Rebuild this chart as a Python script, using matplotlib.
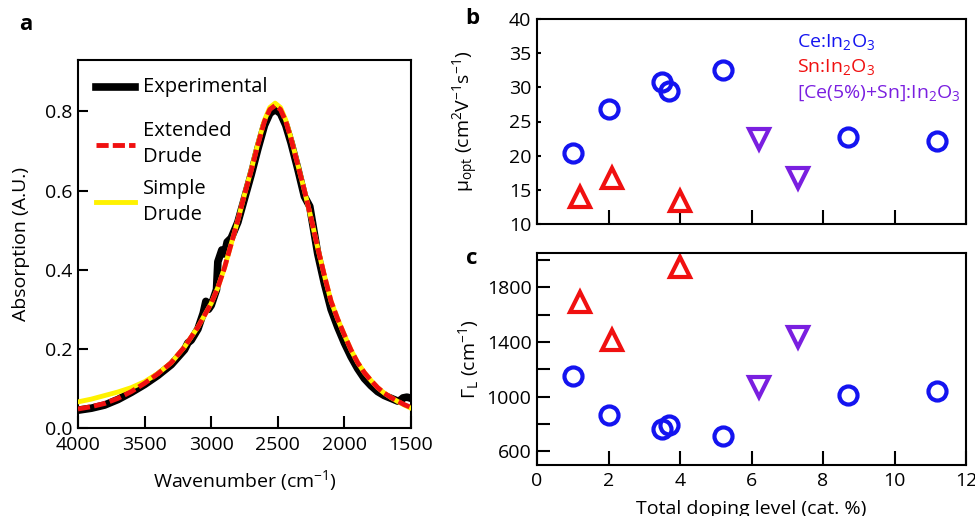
import matplotlib
matplotlib.use("Agg")
import matplotlib.pyplot as plt
from matplotlib.lines import Line2D
from matplotlib.ticker import FixedLocator, FuncFormatter

plt.rcParams["font.family"] = ["Open Sans", "DejaVu Sans"]
plt.rcParams["mathtext.fontset"] = "custom"
plt.rcParams["mathtext.rm"] = "Open Sans"
plt.rcParams["mathtext.it"] = "Open Sans"
plt.rcParams["font.size"] = 14

BLUE = "#1414F0"
RED = "#F01010"
PURPLE = "#7A1FE0"
YELLOW = "#FFF200"

# Panel a: absorption spectra
exp_wn = [4000, 3900, 3800, 3700, 3600, 3500, 3400, 3300, 3200, 3175, 3150,
          3100, 3060, 3040, 3020, 3000, 2960, 2950, 2920, 2900, 2880, 2850,
          2800, 2750, 2700, 2650, 2600, 2560, 2520, 2480, 2440, 2400, 2350,
          2300, 2260, 2240, 2200, 2150, 2100, 2050, 2000, 1950, 1900, 1850,
          1800, 1750, 1700, 1650, 1600, 1580, 1560, 1530, 1500]
exp_abs = [0.045, 0.050, 0.058, 0.072, 0.090, 0.110, 0.133, 0.160, 0.198,
           0.215, 0.222, 0.250, 0.290, 0.320, 0.300, 0.310, 0.350, 0.420,
           0.450, 0.440, 0.470, 0.480, 0.520, 0.580, 0.640, 0.705, 0.765,
           0.795, 0.805, 0.795, 0.765, 0.720, 0.655, 0.585, 0.560, 0.520,
           0.440, 0.365, 0.300, 0.255, 0.215, 0.180, 0.150, 0.125, 0.107,
           0.092, 0.082, 0.075, 0.068, 0.070, 0.076, 0.078, 0.075]

fit_wn = [4000, 3900, 3800, 3700, 3600, 3500, 3400, 3300, 3200, 3100, 3000,
          2950, 2900, 2850, 2800, 2750, 2700, 2650, 2600, 2560, 2520, 2480,
          2440, 2400, 2350, 2300, 2250, 2200, 2150, 2100, 2050, 2000, 1950,
          1900, 1850, 1800, 1750, 1700, 1650, 1600, 1550, 1500]
ext_drude = [0.048, 0.054, 0.062, 0.075, 0.092, 0.113, 0.137, 0.165, 0.205,
             0.255, 0.315, 0.355, 0.405, 0.465, 0.525, 0.590, 0.650, 0.715,
             0.775, 0.805, 0.815, 0.805, 0.775, 0.730, 0.665, 0.600, 0.530,
             0.455, 0.385, 0.320, 0.275, 0.235, 0.197, 0.165, 0.140, 0.120,
             0.102, 0.088, 0.077, 0.068, 0.059, 0.052]
simple_drude = [0.066, 0.073, 0.082, 0.091, 0.102, 0.117, 0.138, 0.165, 0.205,
                0.255, 0.315, 0.355, 0.405, 0.465, 0.525, 0.590, 0.652, 0.718,
                0.778, 0.810, 0.821, 0.810, 0.778, 0.732, 0.666, 0.600, 0.530,
                0.455, 0.385, 0.320, 0.275, 0.235, 0.197, 0.165, 0.140, 0.120,
                0.102, 0.088, 0.077, 0.067, 0.058, 0.050]

# Panels b, c: mobility and damping vs doping
ce_dop = [1.0, 2.0, 3.5, 3.7, 5.2, 8.7, 11.2]
ce_mu = [20.4, 26.9, 30.8, 29.5, 32.6, 22.8, 22.2]
ce_gamma = [1149, 866, 760, 795, 709, 1012, 1044]

sn_dop = [1.2, 2.1, 4.0]
sn_mu = [14.0, 16.7, 13.4]
sn_gamma = [1692, 1411, 1949]

cesn_dop = [6.2, 7.3]
cesn_mu = [22.5, 16.7]
cesn_gamma = [1068, 1435]

W, H = 975, 516
fig = plt.figure(figsize=(W / 100, H / 100), dpi=100)


def box(x0, y0, x1, y1):
  return [x0 / W, 1 - y1 / H, (x1 - x0) / W, (y1 - y0) / H]


def fx(px):
  return px / W


def fy(py):
  return 1 - py / H


def style(ax):
  for s in ax.spines.values():
    s.set_linewidth(1.5)
  ax.tick_params(direction="in", width=1.5, labelsize=14, top=False, right=False)


# ---- a ----
ax = fig.add_axes(box(78, 60, 411, 428))
ax.plot(exp_wn, exp_abs, color="black", lw=5.5, zorder=2)
ax.plot(fit_wn, simple_drude, color=YELLOW, lw=3.5, zorder=3)
ax.plot(fit_wn, ext_drude, color=RED, lw=3.5, ls=(0, (2.5, 0.85)), zorder=4)
ax.set_xlim(4000, 1500)
ax.set_ylim(0, 0.93)
ax.set_xticks([4000, 3500, 3000, 2500, 2000, 1500])
ax.set_yticks([0.0, 0.2, 0.4, 0.6, 0.8])
ax.yaxis.set_major_formatter(FuncFormatter(lambda v, p: f"{v:.1f}"))
style(ax)
ax.tick_params(axis="x", length=9, pad=6)
ax.tick_params(axis="y", length=7, pad=4)
ax.set_xlabel(r"Wavenumber (cm$^\mathregular{-1}$)", labelpad=10)
ax.set_ylabel("Absorption (A.U.)")
ax.yaxis.set_label_coords(-48 / 333, 0.5)

# legend drawn by hand so the three rows are evenly spaced
legend_rows = [
    ("black", 5.5, "-", 87, ["Experimental"], [87]),
    (RED, 3.5, (0, (2.5, 0.85)), 145, ["Extended", "Drude"], [131, 157]),
    (YELLOW, 3.5, "-", 202, ["Simple", "Drude"], [189, 215]),
]
for color, lw, ls, hy, lines, ys in legend_rows:
  fig.add_artist(Line2D([fx(96), fx(135)], [fy(hy), fy(hy)], color=color,
                        lw=lw, ls=ls, transform=fig.transFigure))
  for line, ty in zip(lines, ys):
    fig.text(fx(143), fy(ty), line, fontsize=14.5, va="center", ha="left")

fig.text(26 / W, 1 - 25 / H, "a", fontsize=16, weight="bold",
         ha="center", va="center")

# ---- b ----
bx = fig.add_axes(box(537, 19, 966, 224))
bx.plot(ce_dop, ce_mu, "o", ms=13, mfc="none", mec=BLUE, mew=3)
bx.plot(sn_dop, sn_mu, "^", ms=15, mfc="none", mec=RED, mew=3)
bx.plot(cesn_dop, cesn_mu, "v", ms=15, mfc="none", mec=PURPLE, mew=3)
bx.set_xlim(0, 12)
bx.set_ylim(10, 40)
bx.set_xticks([0, 2, 4, 6, 8, 10, 12])
bx.set_yticks([10, 15, 20, 25, 30, 35, 40])
style(bx)
bx.tick_params(axis="x", length=10, labelbottom=False)
bx.tick_params(axis="y", length=3, pad=4)
bx.set_ylabel(r"μ$_\mathregular{opt}$ (cm$^\mathregular{2}$V$^\mathregular{-1}$s$^\mathregular{-1}$)")
bx.yaxis.set_label_coords(-0.13, 0.5)
tx = (797 - 537) / (966 - 537)
bx.text(tx, 0.89, r"Ce:In$_\mathregular{2}$O$_\mathregular{3}$", color=BLUE,
        transform=bx.transAxes, fontsize=14, va="center")
bx.text(tx, 0.765, r"Sn:In$_\mathregular{2}$O$_\mathregular{3}$", color=RED,
        transform=bx.transAxes, fontsize=14, va="center")
bx.text(tx, 0.64, r"[Ce(5%)+Sn]:In$_\mathregular{2}$O$_\mathregular{3}$",
        color=PURPLE, transform=bx.transAxes, fontsize=14, va="center")
fig.text(472 / W, 1 - 19 / H, "b", fontsize=16, weight="bold",
         ha="center", va="center")

# ---- c ----
cx = fig.add_axes(box(537, 253, 966, 465))
cx.plot(ce_dop, ce_gamma, "o", ms=13, mfc="none", mec=BLUE, mew=3)
cx.plot(sn_dop, sn_gamma, "^", ms=15, mfc="none", mec=RED, mew=3)
cx.plot(cesn_dop, cesn_gamma, "v", ms=15, mfc="none", mec=PURPLE, mew=3)
cx.set_xlim(0, 12)
cx.set_ylim(500, 2050)
cx.set_xticks([0, 2, 4, 6, 8, 10, 12])
cx.yaxis.set_major_locator(FixedLocator([600, 800, 1000, 1200, 1400, 1600, 1800, 2000]))
cx.yaxis.set_major_formatter(
    FuncFormatter(lambda v, p: f"{int(v)}" if int(v) in (600, 1000, 1400, 1800) else ""))
style(cx)
cx.tick_params(axis="x", length=10, pad=5)
cx.tick_params(axis="y", length=9, pad=4)
cx.set_ylabel(r"Γ$_\mathregular{L}$ (cm$^\mathregular{-1}$)")
cx.yaxis.set_label_coords(-0.13, 0.5)
cx.set_xlabel("Total doping level (cat. %)", labelpad=7)
fig.text(472 / W, 1 - 258 / H, "c", fontsize=16, weight="bold",
         ha="center", va="center")

fig.savefig("out.png", dpi=100)
